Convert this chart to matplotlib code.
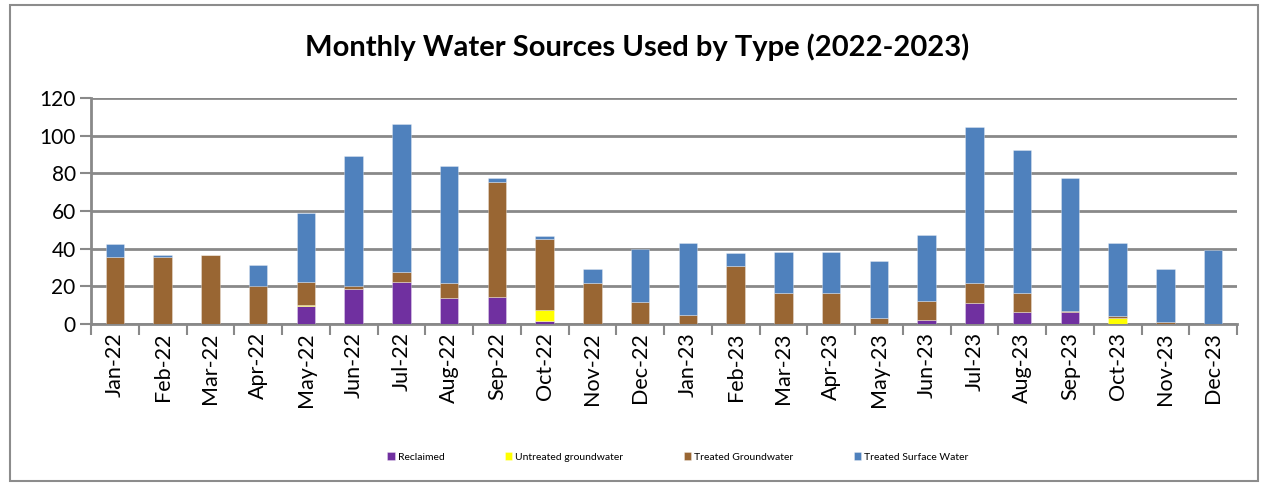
import matplotlib
matplotlib.use("Agg")
import matplotlib.pyplot as plt
from matplotlib.patches import Rectangle
import numpy as np

months = ["Jan-22", "Feb-22", "Mar-22", "Apr-22", "May-22", "Jun-22", "Jul-22", "Aug-22",
          "Sep-22", "Oct-22", "Nov-22", "Dec-22", "Jan-23", "Feb-23", "Mar-23", "Apr-23",
          "May-23", "Jun-23", "Jul-23", "Aug-23", "Sep-23", "Oct-23", "Nov-23", "Dec-23"]
reclaimed = [0, 0, 0, 0, 9.4, 18.7, 22.5, 13.7, 14.4, 1.6, 0, 0,
             0, 0, 0, 0, 0, 2.1, 11.0, 6.2, 6.2, 0, 0, 0]
untreated_gw = [0, 0, 0, 0, 0.9, 0, 0, 0, 0, 6.0, 0, 0,
                0, 0, 0, 0, 0, 0, 0, 0, 0, 3.4, 0, 0]
treated_gw = [35.5, 35.7, 36.4, 20.0, 12.2, 1.3, 5.0, 8.2, 60.9, 37.5, 22.0, 11.7,
              4.8, 30.9, 16.5, 16.5, 3.2, 10.2, 10.9, 10.3, 0.9, 0.7, 0.9, 0]
treated_sw = [6.8, 0.7, 0.5, 11.4, 36.5, 69.0, 78.6, 62.1, 2.0, 1.4, 7.3, 27.9,
              38.4, 6.7, 21.7, 21.7, 30.2, 34.9, 82.7, 75.7, 70.2, 38.9, 28.4, 39.1]
series_names = ["Reclaimed", "Untreated groundwater", "Treated Groundwater", "Treated Surface Water"]
colors = ["#7030A0", "#FFFF00", "#996633", "#4F81BD"]
yticks = [0, 20, 40, 60, 80, 100, 120]

W, H = 1265, 487
fig = plt.figure(figsize=(W / 100, H / 100), dpi=100)
plt.rcParams['font.family'] = ['Lato', 'DejaVu Sans']

ax = fig.add_axes([91 / W, 1 - 324 / H, (1237 - 91) / W, (324 - 98) / H])
x = np.arange(len(months))
bottom = np.zeros(len(months))
handles = []
for name, vals, c in zip(series_names, [reclaimed, untreated_gw, treated_gw, treated_sw], colors):
    v = np.array(vals, dtype=float)
    b = ax.bar(x, v, width=0.39, bottom=bottom, color=c, edgecolor=(1, 1, 1, 0.35),
               linewidth=0.6, label=name, zorder=3)
    handles.append(b)
    bottom += v

ax.set_xlim(-0.5, len(months) - 0.5)
ax.set_ylim(0, 120)
ax.set_yticks(yticks)
ax.set_yticklabels([str(t) for t in yticks], fontsize=15)
ax.yaxis.grid(True, color="#898989", linewidth=2, zorder=0)
ax.set_axisbelow(True)
ax.set_xticks(x)
ax.set_xticklabels(months, rotation=90, fontsize=15.5)
ax.set_xticks(np.arange(-0.5, len(months), 1), minor=True)
ax.tick_params(axis='x', which='major', length=0, pad=6)
ax.tick_params(axis='x', which='minor', length=8, width=1.5, color="#898989")
ax.tick_params(axis='y', length=8, width=1.5, color="#898989", pad=3)
for s in ["top", "right"]:
    ax.spines[s].set_visible(False)
for s in ["left", "bottom"]:
    ax.spines[s].set_color("#898989")
    ax.spines[s].set_linewidth(2)

fig.text(637 / W, 1 - 47 / H, "Monthly Water Sources Used by Type (2022-2023)",
         ha="center", va="center", fontsize=21, fontweight="bold")

fig.legend(handles, series_names, loc="center", bbox_to_anchor=(678 / W, 1 - 457 / H),
           ncol=4, frameon=False, fontsize=7.5, handlelength=0.7, handleheight=0.7,
           handletextpad=0.3, columnspacing=5.8)

fig.patches.append(Rectangle((10 / W, 1 - 481 / H), 1248 / W, 476 / H, transform=fig.transFigure,
                             fill=False, edgecolor="#8c8c8c", linewidth=1.5))

fig.savefig("out.png", dpi=100)
